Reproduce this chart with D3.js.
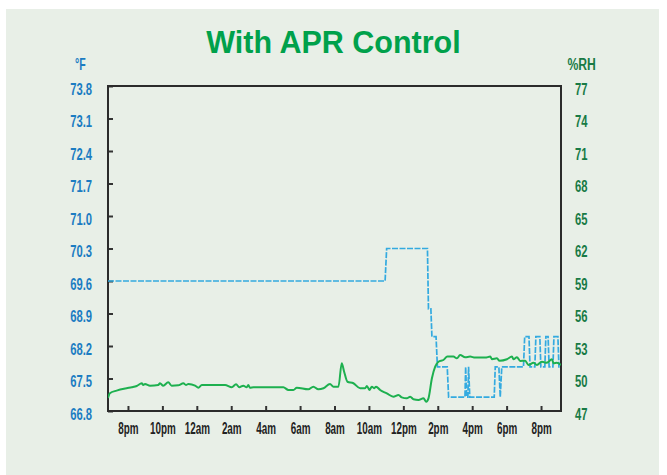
<!DOCTYPE html>
<html>
<head>
<meta charset="utf-8">
<script src="https://cdn.jsdelivr.net/npm/d3@7"></script>
<style>
  html, body { margin: 0; padding: 0; background: #ffffff; }
  svg { display: block; }
  .cond { font-family: "Liberation Sans", Arial, sans-serif; font-weight: bold; }
</style>
</head>
<body>
<svg id="chart" width="667" height="475"></svg>
<script>
// ---- Data (hours counted from 6pm of day 1) ----
const timeTicks = [2, 4, 6, 8, 10, 12, 14, 16, 18, 20, 22, 24, 26];
const timeLabels = ["8pm", "10pm", "12am", "2am", "4am", "6am", "8am", "10am", "12pm", "2pm", "4pm", "6pm", "8pm"];
const tempTicks = [66.8, 67.5, 68.2, 68.9, 69.6, 70.3, 71.0, 71.7, 72.4, 73.1, 73.8];
const rhTicks = [47, 50, 53, 56, 59, 62, 65, 68, 71, 74, 77];

// Temperature (°F), blue dashed line: [hour, value]
const temperature = [
  [0.84, 69.6], [16.94, 69.6], [17.03, 70.3], [19.40, 70.3], [19.46, 69.0],
  [19.60, 69.0], [19.66, 68.4], [19.90, 68.4], [19.98, 67.75], [20.55, 67.75],
  [20.63, 67.1], [21.58, 67.1], [21.62, 67.75], [21.68, 67.1], [21.75, 67.1],
  [21.79, 67.75], [21.86, 67.1], [23.28, 67.1], [23.34, 67.75], [23.55, 67.75],
  [23.63, 67.1], [23.72, 67.75], [24.98, 67.75], [25.05, 68.4], [25.30, 68.4],
  [25.36, 67.75], [25.64, 67.75], [25.70, 68.4], [25.93, 68.4], [25.99, 67.75],
  [26.22, 67.75], [26.28, 68.4], [26.41, 68.4], [26.47, 67.75], [26.69, 67.75],
  [26.75, 68.4], [26.98, 68.4], [27.04, 67.75], [27.16, 67.75]
];

// Relative humidity (%RH), green line: [hour, value]
const humidity = [
  [0.84, 48.2], [0.95, 48.64], [1.34, 48.88], [1.92, 49.1], [2.22, 49.19],
  [2.51, 49.31], [2.80, 49.56], [2.89, 49.4], [2.99, 49.49], [3.28, 49.34],
  [3.76, 49.4], [3.86, 49.56], [4.05, 49.34], [4.34, 49.65], [4.54, 49.34],
  [4.92, 49.37], [5.22, 49.56], [5.37, 49.4], [5.51, 49.49], [5.90, 49.34],
  [6.09, 49.15], [6.29, 49.4], [7.64, 49.4], [8.03, 49.19], [8.28, 49.47],
  [8.47, 49.19], [8.70, 49.34], [8.90, 49.19], [8.99, 49.4], [9.09, 49.15],
  [9.29, 49.19], [11.03, 49.19], [11.32, 48.94], [11.61, 48.94], [11.81, 49.15],
  [12.48, 49.0], [12.77, 49.25], [13.06, 49.0], [13.36, 49.1], [13.74, 49.49],
  [13.94, 49.25], [14.23, 49.25], [14.42, 51.4], [14.56, 50.63], [14.75, 49.7],
  [15.10, 49.56], [15.49, 49.1], [15.78, 49.1], [15.88, 49.31], [16.03, 48.94],
  [16.17, 49.25], [16.30, 49.1], [16.42, 49.25], [16.65, 48.94], [17.04, 48.63],
  [17.42, 48.32], [17.72, 48.48], [17.91, 48.26], [18.20, 48.17], [18.40, 48.32],
  [18.59, 48.08], [18.88, 48.02], [19.17, 48.17], [19.33, 47.86], [19.46, 48.17],
  [19.66, 50.02], [19.85, 51.09], [20.04, 51.55], [20.33, 51.71], [20.56, 52.02],
  [20.91, 52.02], [21.11, 51.86], [21.30, 52.17], [21.59, 51.96], [21.88, 52.02],
  [22.17, 51.93], [22.76, 51.93], [23.05, 52.02], [23.15, 51.78], [23.44, 51.86],
  [23.59, 51.64], [24.02, 51.78], [24.31, 52.02], [24.40, 51.78], [24.60, 51.96],
  [24.79, 51.62], [25.08, 51.64], [25.27, 51.25], [25.56, 51.45], [25.76, 51.25],
  [26.05, 51.55], [26.34, 51.45], [26.63, 51.78], [26.73, 51.4], [26.92, 51.45],
  [27.16, 51.25]
];

// ---- Layout ----
const svg = d3.select("#chart");
const W = 667, H = 475;
const plot = { left: 108, right: 561, top: 86, bottom: 411 };

// squeeze text horizontally (transform) to mimic a condensed face
function condense(sel, ratio) {
  sel.each(function () {
    const t = d3.select(this);
    const x0 = +(t.attr("x") || 0);
    t.attr("x", x0 / ratio).attr("transform", `scale(${ratio},1)`);
  });
}

svg.append("rect").attr("x", 6).attr("y", 9).attr("width", 653).attr("height", H - 9)
  .attr("fill", "#e8efe7");

const x = d3.scaleLinear().domain([0.84, 27.16]).range([plot.left, plot.right]);
const yT = d3.scaleLinear().domain([66.8, 73.8]).range([plot.bottom, plot.top]);
const yH = d3.scaleLinear().domain([47, 77]).range([plot.bottom, plot.top]);

// Title
svg.append("text").attr("x", 333.5).attr("y", 53.3).attr("text-anchor", "middle")
  .attr("font-family", "Liberation Sans, Arial, sans-serif").attr("font-weight", "bold")
  .attr("font-size", 30.5).attr("fill", "#00a14b").text("With APR Control");

// Axis unit labels
const uF = svg.append("text").attr("class", "cond").attr("x", 75).attr("y", 70.5)
  .attr("font-size", 16).attr("fill", "#1b7cc2").text("°F");
condense(uF, 0.66);
const uH = svg.append("text").attr("class", "cond").attr("x", 567.5).attr("y", 70.5)
  .attr("font-size", 16).attr("fill", "#187a45").text("%RH");
condense(uH, 0.76);

// Left axis (temperature)
const leftAxis = d3.axisLeft(yT).tickValues(tempTicks).tickFormat(d3.format(".1f"))
  .tickSizeInner(-5).tickSizeOuter(0).tickPadding(16);
const gL = svg.append("g").attr("transform", `translate(${plot.left},0)`).call(leftAxis);
gL.select(".domain").remove();
gL.selectAll("line").attr("stroke", "#333").attr("stroke-width", 2);
gL.selectAll("text").attr("class", "cond").attr("font-size", 17).attr("fill", "#1b7cc2")
  .attr("dy", "0.48em");
condense(gL.selectAll("text"), 0.66);

// Right axis (humidity)
const rightAxis = d3.axisRight(yH).tickValues(rhTicks).tickSize(0).tickPadding(14);
const gR = svg.append("g").attr("transform", `translate(${plot.right},0)`).call(rightAxis);
gR.select(".domain").remove();
gR.selectAll("text").attr("class", "cond").attr("font-size", 17).attr("fill", "#187a45")
  .attr("dy", "0.48em");
condense(gR.selectAll("text"), 0.66);

// Bottom axis (time)
const bottomAxis = d3.axisBottom(x).tickValues(timeTicks)
  .tickFormat((d, i) => timeLabels[i]).tickSizeInner(-5).tickSizeOuter(0).tickPadding(11);
const gB = svg.append("g").attr("transform", `translate(0,${plot.bottom})`).call(bottomAxis);
gB.select(".domain").remove();
gB.selectAll("line").attr("stroke", "#333").attr("stroke-width", 2);
gB.selectAll("text").attr("class", "cond").attr("font-size", 17).attr("fill", "#222");
condense(gB.selectAll("text"), 0.58);

// Frame
svg.append("rect").attr("x", plot.left).attr("y", plot.top)
  .attr("width", plot.right - plot.left).attr("height", plot.bottom - plot.top)
  .attr("fill", "none").attr("stroke", "#2b2b2b").attr("stroke-width", 2);

// Lines
svg.append("clipPath").attr("id", "clip").append("rect")
  .attr("x", plot.left).attr("y", plot.top - 2)
  .attr("width", plot.right - plot.left).attr("height", plot.bottom - plot.top + 2);

const tempLine = d3.line().x(d => x(d[0])).y(d => yT(d[1]));
const rhLine = d3.line().x(d => x(d[0])).y(d => yH(d[1])).curve(d3.curveMonotoneX);

svg.append("path").datum(temperature).attr("d", tempLine)
  .attr("clip-path", "url(#clip)")
  .attr("fill", "none").attr("stroke", "#33aae0").attr("stroke-width", 1.7)
  .attr("stroke-dasharray", "6,1.5");

svg.append("path").datum(humidity).attr("d", rhLine)
  .attr("clip-path", "url(#clip)")
  .attr("fill", "none").attr("stroke", "#1db04f").attr("stroke-width", 2);
</script>
</body>
</html>
